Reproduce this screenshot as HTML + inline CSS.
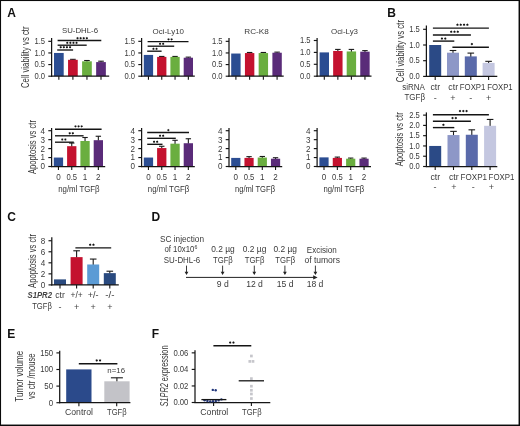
<!DOCTYPE html>
<html><head><meta charset="utf-8"><title>Figure</title>
<style>
html,body{margin:0;padding:0;background:#fff;}
body{width:520px;height:426px;overflow:hidden;position:relative;font-family:"Liberation Sans",sans-serif;}
svg{position:absolute;left:0;top:0;display:block;will-change:transform;fill:#3a3a3a;}
svg text{font-family:"Liberation Sans",sans-serif;}
</style></head>
<body>
<svg width="520" height="426" viewBox="0 0 520 426">
<text x="7.3" y="16.8" font-size="12" fill="#111" font-weight="bold">A</text>
<text x="387.3" y="17.4" font-size="12" fill="#111" font-weight="bold">B</text>
<text x="7.2" y="220.9" font-size="12" fill="#111" font-weight="bold">C</text>
<text x="151.5" y="220.9" font-size="12" fill="#111" font-weight="bold">D</text>
<text x="7.3" y="338" font-size="12" fill="#111" font-weight="bold">E</text>
<text x="151.8" y="338" font-size="12" fill="#111" font-weight="bold">F</text>
<rect x="54" y="52.95" width="9.7" height="23.25" fill="#2b4d92"/>
<path d="M72.9 60.31L72.9 59.34" stroke="#1a1a1a" stroke-width="1.1"/>
<path d="M70.09 59.34L75.71 59.34" stroke="#1a1a1a" stroke-width="1.1"/>
<rect x="68.05" y="59.81" width="9.7" height="16.39" fill="#c4122f"/>
<path d="M86.95 61.82L86.95 60.51" stroke="#1a1a1a" stroke-width="1.1"/>
<path d="M84.14 60.51L89.76 60.51" stroke="#1a1a1a" stroke-width="1.1"/>
<rect x="82.1" y="61.32" width="9.7" height="14.88" fill="#6aae3f"/>
<path d="M101 62.59L101 61.2" stroke="#1a1a1a" stroke-width="1.1"/>
<path d="M98.19 61.2L103.81 61.2" stroke="#1a1a1a" stroke-width="1.1"/>
<rect x="96.15" y="62.09" width="9.7" height="14.11" fill="#5a2b79"/>
<path d="M51.6 38L51.6 76.8" stroke="#151515" stroke-width="1.25"/>
<path d="M51 76.2L109.2 76.2" stroke="#151515" stroke-width="1.25"/>
<path d="M48.3 76.2L51.6 76.2" stroke="#151515" stroke-width="1.15"/>
<text x="45.1" y="79.1" font-size="8.5" text-anchor="end" textLength="10.6" lengthAdjust="spacingAndGlyphs">0.0</text>
<path d="M48.3 64.58L51.6 64.58" stroke="#151515" stroke-width="1.15"/>
<text x="45.1" y="67.48" font-size="8.5" text-anchor="end" textLength="10.6" lengthAdjust="spacingAndGlyphs">0.5</text>
<path d="M48.3 52.95L51.6 52.95" stroke="#151515" stroke-width="1.15"/>
<text x="45.1" y="55.85" font-size="8.5" text-anchor="end" textLength="10.6" lengthAdjust="spacingAndGlyphs">1.0</text>
<path d="M48.3 41.33L51.6 41.33" stroke="#151515" stroke-width="1.15"/>
<text x="45.1" y="44.23" font-size="8.5" text-anchor="end" textLength="10.6" lengthAdjust="spacingAndGlyphs">1.5</text>
<path d="M58.85 76.2L58.85 79.7" stroke="#151515" stroke-width="1.1"/>
<path d="M72.9 76.2L72.9 79.7" stroke="#151515" stroke-width="1.1"/>
<path d="M86.95 76.2L86.95 79.7" stroke="#151515" stroke-width="1.1"/>
<path d="M101 76.2L101 79.7" stroke="#151515" stroke-width="1.1"/>
<text x="80" y="32.8" font-size="8" text-anchor="middle" textLength="36" lengthAdjust="spacingAndGlyphs">SU-DHL-6</text>
<path d="M57.6 40.5L101.3 40.5" stroke="#141414" stroke-width="1.35"/>
<path d="M77.55 36.85L77.13 37.48L76.38 37.53L76.71 38.2L76.38 38.88L77.13 38.92L77.55 39.55L77.97 38.92L78.72 38.88L78.39 38.2L78.72 37.53L77.97 37.48Z" fill="#141414"/>
<path d="M80.65 36.85L80.23 37.48L79.48 37.53L79.81 38.2L79.48 38.88L80.23 38.92L80.65 39.55L81.07 38.92L81.82 38.88L81.49 38.2L81.82 37.53L81.07 37.48Z" fill="#141414"/>
<path d="M83.75 36.85L83.33 37.48L82.58 37.53L82.91 38.2L82.58 38.88L83.33 38.92L83.75 39.55L84.17 38.92L84.92 38.88L84.59 38.2L84.92 37.53L84.17 37.48Z" fill="#141414"/>
<path d="M86.85 36.85L86.43 37.48L85.68 37.53L86.01 38.2L85.68 38.88L86.43 38.92L86.85 39.55L87.27 38.92L88.02 38.88L87.69 38.2L88.02 37.53L87.27 37.48Z" fill="#141414"/>
<path d="M57.6 45.2L86.7 45.2" stroke="#141414" stroke-width="1.35"/>
<path d="M67.25 41.45L66.83 42.08L66.08 42.13L66.41 42.8L66.08 43.48L66.83 43.52L67.25 44.15L67.67 43.52L68.42 43.48L68.09 42.8L68.42 42.13L67.67 42.08Z" fill="#141414"/>
<path d="M70.35 41.45L69.93 42.08L69.18 42.13L69.51 42.8L69.18 43.48L69.93 43.52L70.35 44.15L70.77 43.52L71.52 43.48L71.19 42.8L71.52 42.13L70.77 42.08Z" fill="#141414"/>
<path d="M73.45 41.45L73.03 42.08L72.28 42.13L72.61 42.8L72.28 43.48L73.03 43.52L73.45 44.15L73.87 43.52L74.62 43.48L74.29 42.8L74.62 42.13L73.87 42.08Z" fill="#141414"/>
<path d="M76.55 41.45L76.13 42.08L75.38 42.13L75.71 42.8L75.38 43.48L76.13 43.52L76.55 44.15L76.97 43.52L77.72 43.48L77.39 42.8L77.72 42.13L76.97 42.08Z" fill="#141414"/>
<path d="M57.2 50L73.1 50" stroke="#141414" stroke-width="1.35"/>
<path d="M60.75 45.85L60.33 46.48L59.58 46.53L59.91 47.2L59.58 47.88L60.33 47.92L60.75 48.55L61.17 47.92L61.92 47.88L61.59 47.2L61.92 46.53L61.17 46.48Z" fill="#141414"/>
<path d="M63.85 45.85L63.43 46.48L62.68 46.53L63.01 47.2L62.68 47.88L63.43 47.92L63.85 48.55L64.27 47.92L65.02 47.88L64.69 47.2L65.02 46.53L64.27 46.48Z" fill="#141414"/>
<path d="M66.95 45.85L66.53 46.48L65.78 46.53L66.11 47.2L65.78 47.88L66.53 47.92L66.95 48.55L67.37 47.92L68.12 47.88L67.79 47.2L68.12 46.53L67.37 46.48Z" fill="#141414"/>
<path d="M70.05 45.85L69.63 46.48L68.88 46.53L69.21 47.2L68.88 47.88L69.63 47.92L70.05 48.55L70.47 47.92L71.22 47.88L70.89 47.2L71.22 46.53L70.47 46.48Z" fill="#141414"/>
<rect x="53.8" y="157.55" width="9.3" height="8.95" fill="#2b4d92"/>
<path d="M71.75 146.68L71.75 143.05" stroke="#1a1a1a" stroke-width="1.1"/>
<path d="M69.05 143.05L74.45 143.05" stroke="#1a1a1a" stroke-width="1.1"/>
<rect x="67.1" y="146.18" width="9.3" height="20.32" fill="#c4122f"/>
<path d="M85.05 141.49L85.05 137.5" stroke="#1a1a1a" stroke-width="1.1"/>
<path d="M82.35 137.5L87.75 137.5" stroke="#1a1a1a" stroke-width="1.1"/>
<rect x="80.4" y="140.99" width="9.3" height="25.51" fill="#6aae3f"/>
<path d="M98.35 140.69L98.35 136.25" stroke="#1a1a1a" stroke-width="1.1"/>
<path d="M95.65 136.25L101.05 136.25" stroke="#1a1a1a" stroke-width="1.1"/>
<rect x="93.7" y="140.19" width="9.3" height="26.31" fill="#5a2b79"/>
<path d="M51.6 128L51.6 167.1" stroke="#151515" stroke-width="1.25"/>
<path d="M51 166.5L105.2 166.5" stroke="#151515" stroke-width="1.25"/>
<path d="M48.3 166.5L51.6 166.5" stroke="#151515" stroke-width="1.15"/>
<text x="45.1" y="169.4" font-size="8.5" text-anchor="end" textLength="4.5" lengthAdjust="spacingAndGlyphs">0</text>
<path d="M48.3 157.55L51.6 157.55" stroke="#151515" stroke-width="1.15"/>
<text x="45.1" y="160.45" font-size="8.5" text-anchor="end" textLength="4.5" lengthAdjust="spacingAndGlyphs">1</text>
<path d="M48.3 148.6L51.6 148.6" stroke="#151515" stroke-width="1.15"/>
<text x="45.1" y="151.5" font-size="8.5" text-anchor="end" textLength="4.5" lengthAdjust="spacingAndGlyphs">2</text>
<path d="M48.3 139.65L51.6 139.65" stroke="#151515" stroke-width="1.15"/>
<text x="45.1" y="142.55" font-size="8.5" text-anchor="end" textLength="4.5" lengthAdjust="spacingAndGlyphs">3</text>
<path d="M48.3 130.7L51.6 130.7" stroke="#151515" stroke-width="1.15"/>
<text x="45.1" y="133.6" font-size="8.5" text-anchor="end" textLength="4.5" lengthAdjust="spacingAndGlyphs">4</text>
<path d="M58.45 166.5L58.45 170" stroke="#151515" stroke-width="1.1"/>
<path d="M71.75 166.5L71.75 170" stroke="#151515" stroke-width="1.1"/>
<path d="M85.05 166.5L85.05 170" stroke="#151515" stroke-width="1.1"/>
<path d="M98.35 166.5L98.35 170" stroke="#151515" stroke-width="1.1"/>
<text x="58.45" y="179.8" font-size="8.7" text-anchor="middle" textLength="4.5" lengthAdjust="spacingAndGlyphs">0</text>
<text x="71.75" y="179.8" font-size="8.7" text-anchor="middle" textLength="10.6" lengthAdjust="spacingAndGlyphs">0.5</text>
<text x="85.05" y="179.8" font-size="8.7" text-anchor="middle" textLength="4.5" lengthAdjust="spacingAndGlyphs">1</text>
<text x="98.35" y="179.8" font-size="8.7" text-anchor="middle" textLength="4.5" lengthAdjust="spacingAndGlyphs">2</text>
<text x="78.9" y="192" font-size="9.8" text-anchor="middle" fill="#363636" textLength="41.5" lengthAdjust="spacingAndGlyphs">ng/ml TGFβ</text>
<path d="M55 129.2L101.6 129.2" stroke="#141414" stroke-width="1.35"/>
<path d="M75.5 125.05L75.08 125.68L74.33 125.72L74.66 126.4L74.33 127.07L75.08 127.12L75.5 127.75L75.92 127.12L76.67 127.07L76.34 126.4L76.67 125.72L75.92 125.68Z" fill="#141414"/>
<path d="M78.6 125.05L78.18 125.68L77.43 125.72L77.76 126.4L77.43 127.07L78.18 127.12L78.6 127.75L79.02 127.12L79.77 127.07L79.44 126.4L79.77 125.72L79.02 125.68Z" fill="#141414"/>
<path d="M81.7 125.05L81.28 125.68L80.53 125.72L80.86 126.4L80.53 127.07L81.28 127.12L81.7 127.75L82.12 127.12L82.87 127.07L82.54 126.4L82.87 125.72L82.12 125.68Z" fill="#141414"/>
<path d="M55 135.8L83.6 135.8" stroke="#141414" stroke-width="1.35"/>
<path d="M69.75 131.95L69.33 132.58L68.58 132.62L68.91 133.3L68.58 133.98L69.33 134.02L69.75 134.65L70.17 134.02L70.92 133.98L70.59 133.3L70.92 132.62L70.17 132.58Z" fill="#141414"/>
<path d="M72.85 131.95L72.43 132.58L71.68 132.62L72.01 133.3L71.68 133.98L72.43 134.02L72.85 134.65L73.27 134.02L74.02 133.98L73.69 133.3L74.02 132.62L73.27 132.58Z" fill="#141414"/>
<path d="M55 142.2L73.8 142.2" stroke="#141414" stroke-width="1.35"/>
<path d="M62.25 138.15L61.83 138.78L61.08 138.82L61.41 139.5L61.08 140.18L61.83 140.22L62.25 140.85L62.67 140.22L63.42 140.18L63.09 139.5L63.42 138.82L62.67 138.78Z" fill="#141414"/>
<path d="M65.35 138.15L64.93 138.78L64.18 138.82L64.51 139.5L64.18 140.18L64.93 140.22L65.35 140.85L65.77 140.22L66.52 140.18L66.19 139.5L66.52 138.82L65.77 138.78Z" fill="#141414"/>
<rect x="143.8" y="54.93" width="9.3" height="21.27" fill="#2b4d92"/>
<path d="M161.75 57.4L161.75 56.44" stroke="#1a1a1a" stroke-width="1.1"/>
<path d="M159.05 56.44L164.45 56.44" stroke="#1a1a1a" stroke-width="1.1"/>
<rect x="157.1" y="56.9" width="9.3" height="19.3" fill="#c4122f"/>
<path d="M175.05 57.4L175.05 56.44" stroke="#1a1a1a" stroke-width="1.1"/>
<path d="M172.35 56.44L177.75 56.44" stroke="#1a1a1a" stroke-width="1.1"/>
<rect x="170.4" y="56.9" width="9.3" height="19.3" fill="#6aae3f"/>
<path d="M188.35 58.22L188.35 57.14" stroke="#1a1a1a" stroke-width="1.1"/>
<path d="M185.65 57.14L191.05 57.14" stroke="#1a1a1a" stroke-width="1.1"/>
<rect x="183.7" y="57.72" width="9.3" height="18.48" fill="#5a2b79"/>
<path d="M141.6 38L141.6 76.8" stroke="#151515" stroke-width="1.25"/>
<path d="M141 76.2L194.8 76.2" stroke="#151515" stroke-width="1.25"/>
<path d="M138.3 76.2L141.6 76.2" stroke="#151515" stroke-width="1.15"/>
<text x="135.1" y="79.1" font-size="8.5" text-anchor="end" textLength="10.6" lengthAdjust="spacingAndGlyphs">0.0</text>
<path d="M138.3 64.58L141.6 64.58" stroke="#151515" stroke-width="1.15"/>
<text x="135.1" y="67.48" font-size="8.5" text-anchor="end" textLength="10.6" lengthAdjust="spacingAndGlyphs">0.5</text>
<path d="M138.3 52.95L141.6 52.95" stroke="#151515" stroke-width="1.15"/>
<text x="135.1" y="55.85" font-size="8.5" text-anchor="end" textLength="10.6" lengthAdjust="spacingAndGlyphs">1.0</text>
<path d="M138.3 41.33L141.6 41.33" stroke="#151515" stroke-width="1.15"/>
<text x="135.1" y="44.23" font-size="8.5" text-anchor="end" textLength="10.6" lengthAdjust="spacingAndGlyphs">1.5</text>
<path d="M148.45 76.2L148.45 79.7" stroke="#151515" stroke-width="1.1"/>
<path d="M161.75 76.2L161.75 79.7" stroke="#151515" stroke-width="1.1"/>
<path d="M175.05 76.2L175.05 79.7" stroke="#151515" stroke-width="1.1"/>
<path d="M188.35 76.2L188.35 79.7" stroke="#151515" stroke-width="1.1"/>
<text x="168.3" y="34.2" font-size="8" text-anchor="middle" textLength="31.5" lengthAdjust="spacingAndGlyphs">Oci-Ly10</text>
<path d="M147.6 41.6L188.5 41.6" stroke="#141414" stroke-width="1.35"/>
<path d="M168.55 38.05L168.13 38.68L167.38 38.73L167.71 39.4L167.38 40.07L168.13 40.12L168.55 40.75L168.97 40.12L169.72 40.07L169.39 39.4L169.72 38.73L168.97 38.68Z" fill="#141414"/>
<path d="M171.65 38.05L171.23 38.68L170.48 38.73L170.81 39.4L170.48 40.07L171.23 40.12L171.65 40.75L172.07 40.12L172.82 40.07L172.49 39.4L172.82 38.73L172.07 38.68Z" fill="#141414"/>
<path d="M147.6 46.2L174.2 46.2" stroke="#141414" stroke-width="1.35"/>
<path d="M160.05 42.45L159.63 43.08L158.88 43.13L159.21 43.8L158.88 44.48L159.63 44.52L160.05 45.15L160.47 44.52L161.22 44.48L160.89 43.8L161.22 43.13L160.47 43.08Z" fill="#141414"/>
<path d="M163.15 42.45L162.73 43.08L161.98 43.13L162.31 43.8L161.98 44.48L162.73 44.52L163.15 45.15L163.57 44.52L164.32 44.48L163.99 43.8L164.32 43.13L163.57 43.08Z" fill="#141414"/>
<path d="M147.2 51.2L161.6 51.2" stroke="#141414" stroke-width="1.35"/>
<path d="M153.45 47.45L153.03 48.08L152.28 48.13L152.61 48.8L152.28 49.48L153.03 49.52L153.45 50.15L153.87 49.52L154.62 49.48L154.29 48.8L154.62 48.13L153.87 48.08Z" fill="#141414"/>
<path d="M156.55 47.45L156.13 48.08L155.38 48.13L155.71 48.8L155.38 49.48L156.13 49.52L156.55 50.15L156.97 49.52L157.72 49.48L157.39 48.8L157.72 48.13L156.97 48.08Z" fill="#141414"/>
<rect x="143.8" y="157.55" width="9.3" height="8.95" fill="#2b4d92"/>
<path d="M161.75 148.56L161.75 146.27" stroke="#1a1a1a" stroke-width="1.1"/>
<path d="M159.05 146.27L164.45 146.27" stroke="#1a1a1a" stroke-width="1.1"/>
<rect x="157.1" y="148.06" width="9.3" height="18.44" fill="#c4122f"/>
<path d="M175.05 144.18L175.05 140.28" stroke="#1a1a1a" stroke-width="1.1"/>
<path d="M172.35 140.28L177.75 140.28" stroke="#1a1a1a" stroke-width="1.1"/>
<rect x="170.4" y="143.68" width="9.3" height="22.82" fill="#6aae3f"/>
<path d="M188.35 143.73L188.35 138.75" stroke="#1a1a1a" stroke-width="1.1"/>
<path d="M185.65 138.75L191.05 138.75" stroke="#1a1a1a" stroke-width="1.1"/>
<rect x="183.7" y="143.23" width="9.3" height="23.27" fill="#5a2b79"/>
<path d="M141.6 128L141.6 167.1" stroke="#151515" stroke-width="1.25"/>
<path d="M141 166.5L194.8 166.5" stroke="#151515" stroke-width="1.25"/>
<path d="M138.3 166.5L141.6 166.5" stroke="#151515" stroke-width="1.15"/>
<text x="135.1" y="169.4" font-size="8.5" text-anchor="end" textLength="4.5" lengthAdjust="spacingAndGlyphs">0</text>
<path d="M138.3 157.55L141.6 157.55" stroke="#151515" stroke-width="1.15"/>
<text x="135.1" y="160.45" font-size="8.5" text-anchor="end" textLength="4.5" lengthAdjust="spacingAndGlyphs">1</text>
<path d="M138.3 148.6L141.6 148.6" stroke="#151515" stroke-width="1.15"/>
<text x="135.1" y="151.5" font-size="8.5" text-anchor="end" textLength="4.5" lengthAdjust="spacingAndGlyphs">2</text>
<path d="M138.3 139.65L141.6 139.65" stroke="#151515" stroke-width="1.15"/>
<text x="135.1" y="142.55" font-size="8.5" text-anchor="end" textLength="4.5" lengthAdjust="spacingAndGlyphs">3</text>
<path d="M138.3 130.7L141.6 130.7" stroke="#151515" stroke-width="1.15"/>
<text x="135.1" y="133.6" font-size="8.5" text-anchor="end" textLength="4.5" lengthAdjust="spacingAndGlyphs">4</text>
<path d="M148.45 166.5L148.45 170" stroke="#151515" stroke-width="1.1"/>
<path d="M161.75 166.5L161.75 170" stroke="#151515" stroke-width="1.1"/>
<path d="M175.05 166.5L175.05 170" stroke="#151515" stroke-width="1.1"/>
<path d="M188.35 166.5L188.35 170" stroke="#151515" stroke-width="1.1"/>
<text x="148.45" y="179.8" font-size="8.7" text-anchor="middle" textLength="4.5" lengthAdjust="spacingAndGlyphs">0</text>
<text x="161.75" y="179.8" font-size="8.7" text-anchor="middle" textLength="10.6" lengthAdjust="spacingAndGlyphs">0.5</text>
<text x="175.05" y="179.8" font-size="8.7" text-anchor="middle" textLength="4.5" lengthAdjust="spacingAndGlyphs">1</text>
<text x="188.35" y="179.8" font-size="8.7" text-anchor="middle" textLength="4.5" lengthAdjust="spacingAndGlyphs">2</text>
<text x="168.6" y="192" font-size="9.8" text-anchor="middle" fill="#363636" textLength="41.5" lengthAdjust="spacingAndGlyphs">ng/ml TGFβ</text>
<path d="M147.2 132.5L189 132.5" stroke="#141414" stroke-width="1.35"/>
<path d="M168.3 128.75L167.88 129.38L167.13 129.42L167.46 130.1L167.13 130.78L167.88 130.82L168.3 131.45L168.72 130.82L169.47 130.78L169.14 130.1L169.47 129.42L168.72 129.38Z" fill="#141414"/>
<path d="M147.2 138.3L175.8 138.3" stroke="#141414" stroke-width="1.35"/>
<path d="M160.05 134.35L159.63 134.98L158.88 135.03L159.21 135.7L158.88 136.38L159.63 136.42L160.05 137.05L160.47 136.42L161.22 136.38L160.89 135.7L161.22 135.03L160.47 134.98Z" fill="#141414"/>
<path d="M163.15 134.35L162.73 134.98L161.98 135.03L162.31 135.7L161.98 136.38L162.73 136.42L163.15 137.05L163.57 136.42L164.32 136.38L163.99 135.7L164.32 135.03L163.57 134.98Z" fill="#141414"/>
<path d="M147.2 144.3L162.5 144.3" stroke="#141414" stroke-width="1.35"/>
<path d="M154.05 140.35L153.63 140.98L152.88 141.03L153.21 141.7L152.88 142.38L153.63 142.42L154.05 143.05L154.47 142.42L155.22 142.38L154.89 141.7L155.22 141.03L154.47 140.98Z" fill="#141414"/>
<path d="M157.15 140.35L156.73 140.98L155.98 141.03L156.31 141.7L155.98 142.38L156.73 142.42L157.15 143.05L157.57 142.42L158.32 142.38L157.99 141.7L158.32 141.03L157.57 140.98Z" fill="#141414"/>
<rect x="231.2" y="53.53" width="9.4" height="22.67" fill="#2b4d92"/>
<path d="M249.63 53.57L249.63 52.48" stroke="#1a1a1a" stroke-width="1.1"/>
<path d="M246.9 52.48L252.36 52.48" stroke="#1a1a1a" stroke-width="1.1"/>
<rect x="244.93" y="53.07" width="9.4" height="23.13" fill="#c4122f"/>
<path d="M263.36 53.57L263.36 52.48" stroke="#1a1a1a" stroke-width="1.1"/>
<path d="M260.63 52.48L266.09 52.48" stroke="#1a1a1a" stroke-width="1.1"/>
<rect x="258.66" y="53.07" width="9.4" height="23.13" fill="#6aae3f"/>
<path d="M277.09 53.22L277.09 52.14" stroke="#1a1a1a" stroke-width="1.1"/>
<path d="M274.36 52.14L279.82 52.14" stroke="#1a1a1a" stroke-width="1.1"/>
<rect x="272.39" y="52.72" width="9.4" height="23.48" fill="#5a2b79"/>
<path d="M229 38L229 76.8" stroke="#151515" stroke-width="1.25"/>
<path d="M228.4 76.2L283.7 76.2" stroke="#151515" stroke-width="1.25"/>
<path d="M225.7 76.2L229 76.2" stroke="#151515" stroke-width="1.15"/>
<text x="222.5" y="79.1" font-size="8.5" text-anchor="end" textLength="10.6" lengthAdjust="spacingAndGlyphs">0.0</text>
<path d="M225.7 64.58L229 64.58" stroke="#151515" stroke-width="1.15"/>
<text x="222.5" y="67.48" font-size="8.5" text-anchor="end" textLength="10.6" lengthAdjust="spacingAndGlyphs">0.5</text>
<path d="M225.7 52.95L229 52.95" stroke="#151515" stroke-width="1.15"/>
<text x="222.5" y="55.85" font-size="8.5" text-anchor="end" textLength="10.6" lengthAdjust="spacingAndGlyphs">1.0</text>
<path d="M225.7 41.33L229 41.33" stroke="#151515" stroke-width="1.15"/>
<text x="222.5" y="44.23" font-size="8.5" text-anchor="end" textLength="10.6" lengthAdjust="spacingAndGlyphs">1.5</text>
<path d="M235.9 76.2L235.9 79.7" stroke="#151515" stroke-width="1.1"/>
<path d="M249.63 76.2L249.63 79.7" stroke="#151515" stroke-width="1.1"/>
<path d="M263.36 76.2L263.36 79.7" stroke="#151515" stroke-width="1.1"/>
<path d="M277.09 76.2L277.09 79.7" stroke="#151515" stroke-width="1.1"/>
<text x="256.5" y="34.2" font-size="8" text-anchor="middle" textLength="24.5" lengthAdjust="spacingAndGlyphs">RC-K8</text>
<rect x="231.2" y="157.91" width="9.2" height="8.59" fill="#2b4d92"/>
<path d="M249.05 158.41L249.05 156.66" stroke="#1a1a1a" stroke-width="1.1"/>
<path d="M246.38 156.66L251.72 156.66" stroke="#1a1a1a" stroke-width="1.1"/>
<rect x="244.45" y="157.91" width="9.2" height="8.59" fill="#c4122f"/>
<path d="M262.3 158.05L262.3 156.48" stroke="#1a1a1a" stroke-width="1.1"/>
<path d="M259.63 156.48L264.97 156.48" stroke="#1a1a1a" stroke-width="1.1"/>
<rect x="257.7" y="157.55" width="9.2" height="8.95" fill="#6aae3f"/>
<path d="M275.55 159.21L275.55 157.73" stroke="#1a1a1a" stroke-width="1.1"/>
<path d="M272.88 157.73L278.22 157.73" stroke="#1a1a1a" stroke-width="1.1"/>
<rect x="270.95" y="158.71" width="9.2" height="7.79" fill="#5a2b79"/>
<path d="M229 128L229 167.1" stroke="#151515" stroke-width="1.25"/>
<path d="M228.4 166.5L282.2 166.5" stroke="#151515" stroke-width="1.25"/>
<path d="M225.7 166.5L229 166.5" stroke="#151515" stroke-width="1.15"/>
<text x="222.5" y="169.4" font-size="8.5" text-anchor="end" textLength="4.5" lengthAdjust="spacingAndGlyphs">0</text>
<path d="M225.7 157.55L229 157.55" stroke="#151515" stroke-width="1.15"/>
<text x="222.5" y="160.45" font-size="8.5" text-anchor="end" textLength="4.5" lengthAdjust="spacingAndGlyphs">1</text>
<path d="M225.7 148.6L229 148.6" stroke="#151515" stroke-width="1.15"/>
<text x="222.5" y="151.5" font-size="8.5" text-anchor="end" textLength="4.5" lengthAdjust="spacingAndGlyphs">2</text>
<path d="M225.7 139.65L229 139.65" stroke="#151515" stroke-width="1.15"/>
<text x="222.5" y="142.55" font-size="8.5" text-anchor="end" textLength="4.5" lengthAdjust="spacingAndGlyphs">3</text>
<path d="M225.7 130.7L229 130.7" stroke="#151515" stroke-width="1.15"/>
<text x="222.5" y="133.6" font-size="8.5" text-anchor="end" textLength="4.5" lengthAdjust="spacingAndGlyphs">4</text>
<path d="M235.8 166.5L235.8 170" stroke="#151515" stroke-width="1.1"/>
<path d="M249.05 166.5L249.05 170" stroke="#151515" stroke-width="1.1"/>
<path d="M262.3 166.5L262.3 170" stroke="#151515" stroke-width="1.1"/>
<path d="M275.55 166.5L275.55 170" stroke="#151515" stroke-width="1.1"/>
<text x="235.8" y="179.8" font-size="8.7" text-anchor="middle" textLength="4.5" lengthAdjust="spacingAndGlyphs">0</text>
<text x="249.05" y="179.8" font-size="8.7" text-anchor="middle" textLength="10.6" lengthAdjust="spacingAndGlyphs">0.5</text>
<text x="262.3" y="179.8" font-size="8.7" text-anchor="middle" textLength="4.5" lengthAdjust="spacingAndGlyphs">1</text>
<text x="275.55" y="179.8" font-size="8.7" text-anchor="middle" textLength="4.5" lengthAdjust="spacingAndGlyphs">2</text>
<text x="255" y="192" font-size="9.8" text-anchor="middle" fill="#363636" textLength="40" lengthAdjust="spacingAndGlyphs">ng/ml TGFβ</text>
<rect x="319.6" y="52.4" width="9.4" height="23.8" fill="#2b4d92"/>
<path d="M337.85 51.47L337.85 49.42" stroke="#1a1a1a" stroke-width="1.1"/>
<path d="M335.12 49.42L340.58 49.42" stroke="#1a1a1a" stroke-width="1.1"/>
<rect x="333.15" y="50.97" width="9.4" height="25.23" fill="#c4122f"/>
<path d="M351.4 51.95L351.4 49.42" stroke="#1a1a1a" stroke-width="1.1"/>
<path d="M348.67 49.42L354.13 49.42" stroke="#1a1a1a" stroke-width="1.1"/>
<rect x="346.7" y="51.45" width="9.4" height="24.75" fill="#6aae3f"/>
<path d="M364.95 52.19L364.95 50.62" stroke="#1a1a1a" stroke-width="1.1"/>
<path d="M362.22 50.62L367.68 50.62" stroke="#1a1a1a" stroke-width="1.1"/>
<rect x="360.25" y="51.69" width="9.4" height="24.51" fill="#5a2b79"/>
<path d="M317.1 38L317.1 76.8" stroke="#151515" stroke-width="1.25"/>
<path d="M316.5 76.2L371.5 76.2" stroke="#151515" stroke-width="1.25"/>
<path d="M313.8 76.2L317.1 76.2" stroke="#151515" stroke-width="1.15"/>
<text x="310.6" y="79.1" font-size="8.5" text-anchor="end" textLength="10.6" lengthAdjust="spacingAndGlyphs">0.0</text>
<path d="M313.8 64.3L317.1 64.3" stroke="#151515" stroke-width="1.15"/>
<text x="310.6" y="67.2" font-size="8.5" text-anchor="end" textLength="10.6" lengthAdjust="spacingAndGlyphs">0.5</text>
<path d="M313.8 52.4L317.1 52.4" stroke="#151515" stroke-width="1.15"/>
<text x="310.6" y="55.3" font-size="8.5" text-anchor="end" textLength="10.6" lengthAdjust="spacingAndGlyphs">1.0</text>
<path d="M313.8 40.5L317.1 40.5" stroke="#151515" stroke-width="1.15"/>
<text x="310.6" y="43.4" font-size="8.5" text-anchor="end" textLength="10.6" lengthAdjust="spacingAndGlyphs">1.5</text>
<path d="M324.3 76.2L324.3 79.7" stroke="#151515" stroke-width="1.1"/>
<path d="M337.85 76.2L337.85 79.7" stroke="#151515" stroke-width="1.1"/>
<path d="M351.4 76.2L351.4 79.7" stroke="#151515" stroke-width="1.1"/>
<path d="M364.95 76.2L364.95 79.7" stroke="#151515" stroke-width="1.1"/>
<text x="344.5" y="34.2" font-size="8" text-anchor="middle" textLength="27" lengthAdjust="spacingAndGlyphs">Oci-Ly3</text>
<rect x="319.4" y="157.37" width="9.2" height="9.13" fill="#2b4d92"/>
<path d="M337.35 158.41L337.35 157.1" stroke="#1a1a1a" stroke-width="1.1"/>
<path d="M334.68 157.1L340.02 157.1" stroke="#1a1a1a" stroke-width="1.1"/>
<rect x="332.75" y="157.91" width="9.2" height="8.59" fill="#c4122f"/>
<path d="M350.7 159.21L350.7 158.09" stroke="#1a1a1a" stroke-width="1.1"/>
<path d="M348.03 158.09L353.37 158.09" stroke="#1a1a1a" stroke-width="1.1"/>
<rect x="346.1" y="158.71" width="9.2" height="7.79" fill="#6aae3f"/>
<path d="M364.05 159.21L364.05 158.09" stroke="#1a1a1a" stroke-width="1.1"/>
<path d="M361.38 158.09L366.72 158.09" stroke="#1a1a1a" stroke-width="1.1"/>
<rect x="359.45" y="158.71" width="9.2" height="7.79" fill="#5a2b79"/>
<path d="M317.1 128L317.1 167.1" stroke="#151515" stroke-width="1.25"/>
<path d="M316.5 166.5L371 166.5" stroke="#151515" stroke-width="1.25"/>
<path d="M313.8 166.5L317.1 166.5" stroke="#151515" stroke-width="1.15"/>
<text x="310.6" y="169.4" font-size="8.5" text-anchor="end" textLength="4.5" lengthAdjust="spacingAndGlyphs">0</text>
<path d="M313.8 157.55L317.1 157.55" stroke="#151515" stroke-width="1.15"/>
<text x="310.6" y="160.45" font-size="8.5" text-anchor="end" textLength="4.5" lengthAdjust="spacingAndGlyphs">1</text>
<path d="M313.8 148.6L317.1 148.6" stroke="#151515" stroke-width="1.15"/>
<text x="310.6" y="151.5" font-size="8.5" text-anchor="end" textLength="4.5" lengthAdjust="spacingAndGlyphs">2</text>
<path d="M313.8 139.65L317.1 139.65" stroke="#151515" stroke-width="1.15"/>
<text x="310.6" y="142.55" font-size="8.5" text-anchor="end" textLength="4.5" lengthAdjust="spacingAndGlyphs">3</text>
<path d="M313.8 130.7L317.1 130.7" stroke="#151515" stroke-width="1.15"/>
<text x="310.6" y="133.6" font-size="8.5" text-anchor="end" textLength="4.5" lengthAdjust="spacingAndGlyphs">4</text>
<path d="M324 166.5L324 170" stroke="#151515" stroke-width="1.1"/>
<path d="M337.35 166.5L337.35 170" stroke="#151515" stroke-width="1.1"/>
<path d="M350.7 166.5L350.7 170" stroke="#151515" stroke-width="1.1"/>
<path d="M364.05 166.5L364.05 170" stroke="#151515" stroke-width="1.1"/>
<text x="324" y="179.8" font-size="8.7" text-anchor="middle" textLength="4.5" lengthAdjust="spacingAndGlyphs">0</text>
<text x="337.35" y="179.8" font-size="8.7" text-anchor="middle" textLength="10.6" lengthAdjust="spacingAndGlyphs">0.5</text>
<text x="350.7" y="179.8" font-size="8.7" text-anchor="middle" textLength="4.5" lengthAdjust="spacingAndGlyphs">1</text>
<text x="364.05" y="179.8" font-size="8.7" text-anchor="middle" textLength="4.5" lengthAdjust="spacingAndGlyphs">2</text>
<text x="343.9" y="192" font-size="9.8" text-anchor="middle" fill="#363636" textLength="40.8" lengthAdjust="spacingAndGlyphs">ng/ml TGFβ</text>
<text x="29.1" y="57.25" font-size="10.3" text-anchor="middle" fill="#363636" textLength="61.5" lengthAdjust="spacingAndGlyphs" transform="rotate(-90 29.1 57.25)">Cell viability vs ctr</text>
<text x="36.1" y="147" font-size="10.3" text-anchor="middle" fill="#363636" textLength="54" lengthAdjust="spacingAndGlyphs" transform="rotate(-90 36.1 147)">Apoptosis vs ctr</text>
<rect x="429.2" y="45" width="12" height="31.4" fill="#2b4a86"/>
<path d="M453 53.19L453 50.5" stroke="#1a1a1a" stroke-width="1.1"/>
<path d="M449.7 50.5L456.3 50.5" stroke="#1a1a1a" stroke-width="1.1"/>
<rect x="447" y="52.69" width="12" height="23.71" fill="#8d97c7"/>
<path d="M470.8 56.9L470.8 53.1" stroke="#1a1a1a" stroke-width="1.1"/>
<path d="M467.5 53.1L474.1 53.1" stroke="#1a1a1a" stroke-width="1.1"/>
<rect x="464.8" y="56.4" width="12" height="20" fill="#5a6aaa"/>
<path d="M488.6 63.4L488.6 61.33" stroke="#1a1a1a" stroke-width="1.1"/>
<path d="M485.3 61.33L491.9 61.33" stroke="#1a1a1a" stroke-width="1.1"/>
<rect x="482.6" y="62.9" width="12" height="13.5" fill="#c4c7e0"/>
<path d="M426.4 25.5L426.4 77" stroke="#151515" stroke-width="1.25"/>
<path d="M425.8 76.4L497.3 76.4" stroke="#151515" stroke-width="1.25"/>
<path d="M423.1 76.4L426.4 76.4" stroke="#151515" stroke-width="1.15"/>
<text x="419.8" y="79.1" font-size="8.5" text-anchor="end" textLength="10.6" lengthAdjust="spacingAndGlyphs">0.0</text>
<path d="M423.1 60.7L426.4 60.7" stroke="#151515" stroke-width="1.15"/>
<text x="419.8" y="63.4" font-size="8.5" text-anchor="end" textLength="10.6" lengthAdjust="spacingAndGlyphs">0.5</text>
<path d="M423.1 45L426.4 45" stroke="#151515" stroke-width="1.15"/>
<text x="419.8" y="47.7" font-size="8.5" text-anchor="end" textLength="10.6" lengthAdjust="spacingAndGlyphs">1.0</text>
<path d="M423.1 29.3L426.4 29.3" stroke="#151515" stroke-width="1.15"/>
<text x="419.8" y="32" font-size="8.5" text-anchor="end" textLength="10.6" lengthAdjust="spacingAndGlyphs">1.5</text>
<path d="M435.2 76.4L435.2 79.9" stroke="#151515" stroke-width="1.1"/>
<path d="M453 76.4L453 79.9" stroke="#151515" stroke-width="1.1"/>
<path d="M470.8 76.4L470.8 79.9" stroke="#151515" stroke-width="1.1"/>
<path d="M488.6 76.4L488.6 79.9" stroke="#151515" stroke-width="1.1"/>
<path d="M432.9 28.1L488.9 28.1" stroke="#141414" stroke-width="1.4"/>
<path d="M457.45 23.28L457.01 23.94L456.22 23.99L456.57 24.7L456.22 25.41L457.01 25.46L457.45 26.12L457.89 25.46L458.68 25.41L458.33 24.7L458.68 23.99L457.89 23.94Z" fill="#141414"/>
<path d="M460.75 23.28L460.31 23.94L459.52 23.99L459.87 24.7L459.52 25.41L460.31 25.46L460.75 26.12L461.19 25.46L461.98 25.41L461.63 24.7L461.98 23.99L461.19 23.94Z" fill="#141414"/>
<path d="M464.05 23.28L463.61 23.94L462.82 23.99L463.17 24.7L462.82 25.41L463.61 25.46L464.05 26.12L464.49 25.46L465.28 25.41L464.93 24.7L465.28 23.99L464.49 23.94Z" fill="#141414"/>
<path d="M467.35 23.28L466.91 23.94L466.12 23.99L466.47 24.7L466.12 25.41L466.91 25.46L467.35 26.12L467.79 25.46L468.58 25.41L468.23 24.7L468.58 23.99L467.79 23.94Z" fill="#141414"/>
<path d="M432.9 35L470.9 35" stroke="#141414" stroke-width="1.4"/>
<path d="M451.2 30.28L450.76 30.94L449.97 30.99L450.32 31.7L449.97 32.41L450.76 32.46L451.2 33.12L451.64 32.46L452.43 32.41L452.08 31.7L452.43 30.99L451.64 30.94Z" fill="#141414"/>
<path d="M454.5 30.28L454.06 30.94L453.27 30.99L453.62 31.7L453.27 32.41L454.06 32.46L454.5 33.12L454.94 32.46L455.73 32.41L455.38 31.7L455.73 30.99L454.94 30.94Z" fill="#141414"/>
<path d="M457.8 30.28L457.36 30.94L456.57 30.99L456.92 31.7L456.57 32.41L457.36 32.46L457.8 33.12L458.24 32.46L459.03 32.41L458.68 31.7L459.03 30.99L458.24 30.94Z" fill="#141414"/>
<path d="M432.9 41.1L454.3 41.1" stroke="#141414" stroke-width="1.4"/>
<path d="M441.95 37.18L441.51 37.84L440.72 37.89L441.07 38.6L440.72 39.31L441.51 39.36L441.95 40.02L442.39 39.36L443.18 39.31L442.83 38.6L443.18 37.89L442.39 37.84Z" fill="#141414"/>
<path d="M445.25 37.18L444.81 37.84L444.02 37.89L444.37 38.6L444.02 39.31L444.81 39.36L445.25 40.02L445.69 39.36L446.48 39.31L446.13 38.6L446.48 37.89L445.69 37.84Z" fill="#141414"/>
<path d="M452.4 47.2L488.9 47.2" stroke="#141414" stroke-width="1.4"/>
<path d="M471.9 42.68L471.46 43.34L470.67 43.39L471.02 44.1L470.67 44.81L471.46 44.86L471.9 45.52L472.34 44.86L473.13 44.81L472.78 44.1L473.13 43.39L472.34 43.34Z" fill="#141414"/>
<text x="425" y="90.1" font-size="8.5" text-anchor="end" textLength="22.8" lengthAdjust="spacingAndGlyphs">siRNA</text>
<text x="425" y="99.9" font-size="8.5" text-anchor="end" textLength="20.5" lengthAdjust="spacingAndGlyphs">TGFβ</text>
<text x="435.3" y="90.1" font-size="8.5" text-anchor="middle" textLength="9.8" lengthAdjust="spacingAndGlyphs">ctr</text>
<text x="453.2" y="90.1" font-size="8.5" text-anchor="middle" textLength="9.8" lengthAdjust="spacingAndGlyphs">ctr</text>
<text x="472.6" y="90.1" font-size="8.5" text-anchor="middle" textLength="25.6" lengthAdjust="spacingAndGlyphs">FOXP1</text>
<text x="499.9" y="90.1" font-size="8.5" text-anchor="middle" textLength="25.5" lengthAdjust="spacingAndGlyphs">FOXP1</text>
<text x="435.2" y="100.5" font-size="9" text-anchor="middle" fill="#484848">-</text>
<text x="453" y="100.5" font-size="9" text-anchor="middle" fill="#484848">+</text>
<text x="470.8" y="100.5" font-size="9" text-anchor="middle" fill="#484848">-</text>
<text x="488.6" y="100.5" font-size="9" text-anchor="middle" fill="#484848">+</text>
<text x="403.9" y="51.1" font-size="10.3" text-anchor="middle" fill="#363636" textLength="62.2" lengthAdjust="spacingAndGlyphs" transform="rotate(-90 403.9 51.1)">Cell viability vs ctr</text>
<rect x="429.2" y="145.95" width="12" height="20.55" fill="#2b4a86"/>
<path d="M453.5 135.56L453.5 131.36" stroke="#1a1a1a" stroke-width="1.1"/>
<path d="M450.2 131.36L456.8 131.36" stroke="#1a1a1a" stroke-width="1.1"/>
<rect x="447.5" y="135.06" width="12" height="31.44" fill="#8d97c7"/>
<path d="M471.8 135.25L471.8 129.82" stroke="#1a1a1a" stroke-width="1.1"/>
<path d="M468.5 129.82L475.1 129.82" stroke="#1a1a1a" stroke-width="1.1"/>
<rect x="465.8" y="134.75" width="12" height="31.75" fill="#5a6aaa"/>
<path d="M490.1 126.31L490.1 119.44" stroke="#1a1a1a" stroke-width="1.1"/>
<path d="M486.8 119.44L493.4 119.44" stroke="#1a1a1a" stroke-width="1.1"/>
<rect x="484.1" y="125.81" width="12" height="40.69" fill="#c4c7e0"/>
<path d="M426.4 112.4L426.4 167.1" stroke="#151515" stroke-width="1.25"/>
<path d="M425.8 166.5L497.3 166.5" stroke="#151515" stroke-width="1.25"/>
<path d="M423.1 166.5L426.4 166.5" stroke="#151515" stroke-width="1.15"/>
<text x="419.8" y="169.2" font-size="8.5" text-anchor="end" textLength="10.6" lengthAdjust="spacingAndGlyphs">0.0</text>
<path d="M423.1 156.22L426.4 156.22" stroke="#151515" stroke-width="1.15"/>
<text x="419.8" y="158.92" font-size="8.5" text-anchor="end" textLength="10.6" lengthAdjust="spacingAndGlyphs">0.5</text>
<path d="M423.1 145.95L426.4 145.95" stroke="#151515" stroke-width="1.15"/>
<text x="419.8" y="148.65" font-size="8.5" text-anchor="end" textLength="10.6" lengthAdjust="spacingAndGlyphs">1.0</text>
<path d="M423.1 135.68L426.4 135.68" stroke="#151515" stroke-width="1.15"/>
<text x="419.8" y="138.38" font-size="8.5" text-anchor="end" textLength="10.6" lengthAdjust="spacingAndGlyphs">1.5</text>
<path d="M423.1 125.4L426.4 125.4" stroke="#151515" stroke-width="1.15"/>
<text x="419.8" y="128.1" font-size="8.5" text-anchor="end" textLength="10.6" lengthAdjust="spacingAndGlyphs">2.0</text>
<path d="M423.1 115.12L426.4 115.12" stroke="#151515" stroke-width="1.15"/>
<text x="419.8" y="117.83" font-size="8.5" text-anchor="end" textLength="10.6" lengthAdjust="spacingAndGlyphs">2.5</text>
<path d="M435.2 166.5L435.2 170" stroke="#151515" stroke-width="1.1"/>
<path d="M453.5 166.5L453.5 170" stroke="#151515" stroke-width="1.1"/>
<path d="M471.8 166.5L471.8 170" stroke="#151515" stroke-width="1.1"/>
<path d="M490.1 166.5L490.1 170" stroke="#151515" stroke-width="1.1"/>
<path d="M432.9 114.7L488.9 114.7" stroke="#141414" stroke-width="1.4"/>
<path d="M460 109.68L459.56 110.34L458.77 110.39L459.12 111.1L458.77 111.81L459.56 111.86L460 112.52L460.44 111.86L461.23 111.81L460.88 111.1L461.23 110.39L460.44 110.34Z" fill="#141414"/>
<path d="M463.3 109.68L462.86 110.34L462.07 110.39L462.42 111.1L462.07 111.81L462.86 111.86L463.3 112.52L463.74 111.86L464.53 111.81L464.18 111.1L464.53 110.39L463.74 110.34Z" fill="#141414"/>
<path d="M466.6 109.68L466.16 110.34L465.37 110.39L465.72 111.1L465.37 111.81L466.16 111.86L466.6 112.52L467.04 111.86L467.83 111.81L467.48 111.1L467.83 110.39L467.04 110.34Z" fill="#141414"/>
<path d="M432.9 121.2L470.9 121.2" stroke="#141414" stroke-width="1.4"/>
<path d="M452.55 116.68L452.11 117.34L451.32 117.39L451.67 118.1L451.32 118.81L452.11 118.86L452.55 119.52L452.99 118.86L453.78 118.81L453.43 118.1L453.78 117.39L452.99 117.34Z" fill="#141414"/>
<path d="M455.85 116.68L455.41 117.34L454.62 117.39L454.97 118.1L454.62 118.81L455.41 118.86L455.85 119.52L456.29 118.86L457.08 118.81L456.73 118.1L457.08 117.39L456.29 117.34Z" fill="#141414"/>
<path d="M432.9 127.6L454.3 127.6" stroke="#141414" stroke-width="1.4"/>
<path d="M443.4 123.38L442.96 124.04L442.17 124.09L442.52 124.8L442.17 125.51L442.96 125.56L443.4 126.22L443.84 125.56L444.63 125.51L444.28 124.8L444.63 124.09L443.84 124.04Z" fill="#141414"/>
<text x="435.3" y="179.9" font-size="8.5" text-anchor="middle" textLength="9.8" lengthAdjust="spacingAndGlyphs">ctr</text>
<text x="453.8" y="179.9" font-size="8.5" text-anchor="middle" textLength="9.8" lengthAdjust="spacingAndGlyphs">ctr</text>
<text x="473.8" y="179.9" font-size="8.5" text-anchor="middle" textLength="26.4" lengthAdjust="spacingAndGlyphs">FOXP1</text>
<text x="501.5" y="179.9" font-size="8.5" text-anchor="middle" textLength="25.8" lengthAdjust="spacingAndGlyphs">FOXP1</text>
<text x="435" y="190.4" font-size="9" text-anchor="middle" fill="#484848">-</text>
<text x="453.9" y="190.4" font-size="9" text-anchor="middle" fill="#484848">+</text>
<text x="473.3" y="190.4" font-size="9" text-anchor="middle" fill="#484848">-</text>
<text x="491.4" y="190.4" font-size="9" text-anchor="middle" fill="#484848">+</text>
<text x="403.2" y="139.3" font-size="10.3" text-anchor="middle" fill="#363636" textLength="54" lengthAdjust="spacingAndGlyphs" transform="rotate(-90 403.2 139.3)">Apoptosis vs ctr</text>
<rect x="54" y="279.38" width="12" height="5.52" fill="#2a4a7f"/>
<path d="M76.6 257.63L76.6 250.79" stroke="#1a1a1a" stroke-width="1.1"/>
<path d="M73.3 250.79L79.9 250.79" stroke="#1a1a1a" stroke-width="1.1"/>
<rect x="70.6" y="257.13" width="12" height="27.77" fill="#c4122f"/>
<path d="M93.2 264.98L93.2 259.07" stroke="#1a1a1a" stroke-width="1.1"/>
<path d="M89.9 259.07L96.5 259.07" stroke="#1a1a1a" stroke-width="1.1"/>
<rect x="87.2" y="264.48" width="12" height="20.42" fill="#5b9bd5"/>
<path d="M109.8 273.64L109.8 271.21" stroke="#1a1a1a" stroke-width="1.1"/>
<path d="M106.5 271.21L113.1 271.21" stroke="#1a1a1a" stroke-width="1.1"/>
<rect x="103.8" y="273.14" width="12" height="11.76" fill="#2a4a7f"/>
<path d="M51.8 237.2L51.8 285.5" stroke="#151515" stroke-width="1.25"/>
<path d="M51.2 284.9L118.8 284.9" stroke="#151515" stroke-width="1.25"/>
<path d="M48.5 284.9L51.8 284.9" stroke="#151515" stroke-width="1.15"/>
<text x="45.3" y="287.8" font-size="8.5" text-anchor="end" textLength="4.5" lengthAdjust="spacingAndGlyphs">0</text>
<path d="M48.5 273.86L51.8 273.86" stroke="#151515" stroke-width="1.15"/>
<text x="45.3" y="276.76" font-size="8.5" text-anchor="end" textLength="4.5" lengthAdjust="spacingAndGlyphs">2</text>
<path d="M48.5 262.82L51.8 262.82" stroke="#151515" stroke-width="1.15"/>
<text x="45.3" y="265.72" font-size="8.5" text-anchor="end" textLength="4.5" lengthAdjust="spacingAndGlyphs">4</text>
<path d="M48.5 251.78L51.8 251.78" stroke="#151515" stroke-width="1.15"/>
<text x="45.3" y="254.68" font-size="8.5" text-anchor="end" textLength="4.5" lengthAdjust="spacingAndGlyphs">6</text>
<path d="M48.5 240.74L51.8 240.74" stroke="#151515" stroke-width="1.15"/>
<text x="45.3" y="243.64" font-size="8.5" text-anchor="end" textLength="4.5" lengthAdjust="spacingAndGlyphs">8</text>
<path d="M60 284.9L60 288.4" stroke="#151515" stroke-width="1.1"/>
<path d="M76.6 284.9L76.6 288.4" stroke="#151515" stroke-width="1.1"/>
<path d="M93.2 284.9L93.2 288.4" stroke="#151515" stroke-width="1.1"/>
<path d="M109.8 284.9L109.8 288.4" stroke="#151515" stroke-width="1.1"/>
<path d="M75.4 247.9L111.2 247.9" stroke="#141414" stroke-width="1.4"/>
<path d="M90.15 243.28L89.71 243.94L88.92 243.99L89.27 244.7L88.92 245.41L89.71 245.46L90.15 246.12L90.59 245.46L91.38 245.41L91.03 244.7L91.38 243.99L90.59 243.94Z" fill="#141414"/>
<path d="M93.45 243.28L93.01 243.94L92.22 243.99L92.57 244.7L92.22 245.41L93.01 245.46L93.45 246.12L93.89 245.46L94.68 245.41L94.33 244.7L94.68 243.99L93.89 243.94Z" fill="#141414"/>
<text x="52" y="298.2" font-size="8.3" text-anchor="end" fill="#444" textLength="24.5" lengthAdjust="spacingAndGlyphs" font-weight="bold" font-style="italic">S1PR2</text>
<text x="60" y="298.3" font-size="8.5" text-anchor="middle" textLength="9.6" lengthAdjust="spacingAndGlyphs">ctr</text>
<text x="76.6" y="298.3" font-size="8.5" text-anchor="middle" textLength="12.2" lengthAdjust="spacingAndGlyphs">+/+</text>
<text x="93.2" y="298.3" font-size="8.5" text-anchor="middle" textLength="10.8" lengthAdjust="spacingAndGlyphs">+/-</text>
<text x="109.8" y="298.3" font-size="8.5" text-anchor="middle" textLength="9.2" lengthAdjust="spacingAndGlyphs">-/-</text>
<text x="51.8" y="309.3" font-size="8.5" text-anchor="end" textLength="19.6" lengthAdjust="spacingAndGlyphs">TGFβ</text>
<text x="60" y="309.9" font-size="9" text-anchor="middle" fill="#484848">-</text>
<text x="76.6" y="309.9" font-size="9" text-anchor="middle" fill="#484848">+</text>
<text x="93.2" y="309.9" font-size="9" text-anchor="middle" fill="#484848">+</text>
<text x="109.8" y="309.9" font-size="9" text-anchor="middle" fill="#484848">+</text>
<text x="36.1" y="261" font-size="10.3" text-anchor="middle" fill="#363636" textLength="53.9" lengthAdjust="spacingAndGlyphs" transform="rotate(-90 36.1 261)">Apoptosis vs ctr</text>
<text x="182" y="242.3" font-size="8.6" text-anchor="middle" textLength="44" lengthAdjust="spacingAndGlyphs">SC injection</text>
<text x="164.4" y="252.4" font-size="8.6" textLength="30" lengthAdjust="spacingAndGlyphs">of 10x10</text>
<text x="194.5" y="249.4" font-size="5.2">6</text>
<text x="182" y="263" font-size="8.6" text-anchor="middle" textLength="36.5" lengthAdjust="spacingAndGlyphs">SU-DHL-6</text>
<path d="M186.5 265.6L186.5 273.5" stroke="#222" stroke-width="0.9"/>
<path d="M184.6 271.8L188.4 271.8L186.5 275Z" fill="#222"/>
<path d="M186 277.4L314.5 277.4" stroke="#222" stroke-width="1.0"/>
<path d="M313.2 275.3L317.6 277.4L313.2 279.5Z" fill="#222"/>
<text x="222.9" y="252.2" font-size="8.6" text-anchor="middle" textLength="23.5" lengthAdjust="spacingAndGlyphs">0.2 µg</text>
<text x="222.9" y="263" font-size="8.6" text-anchor="middle" textLength="19.8" lengthAdjust="spacingAndGlyphs">TGFβ</text>
<path d="M222.6 265.6L222.6 273.5" stroke="#222" stroke-width="0.9"/>
<path d="M220.7 271.8L224.5 271.8L222.6 275Z" fill="#222"/>
<text x="222.8" y="287.3" font-size="8.6" text-anchor="middle">9 d</text>
<text x="254.6" y="252.2" font-size="8.6" text-anchor="middle" textLength="23.5" lengthAdjust="spacingAndGlyphs">0.2 µg</text>
<text x="254.6" y="263" font-size="8.6" text-anchor="middle" textLength="19.8" lengthAdjust="spacingAndGlyphs">TGFβ</text>
<path d="M254.3 265.6L254.3 273.5" stroke="#222" stroke-width="0.9"/>
<path d="M252.4 271.8L256.2 271.8L254.3 275Z" fill="#222"/>
<text x="254.5" y="287.3" font-size="8.6" text-anchor="middle">12 d</text>
<text x="285.2" y="252.2" font-size="8.6" text-anchor="middle" textLength="23.5" lengthAdjust="spacingAndGlyphs">0.2 µg</text>
<text x="285.2" y="263" font-size="8.6" text-anchor="middle" textLength="19.8" lengthAdjust="spacingAndGlyphs">TGFβ</text>
<path d="M284.9 265.6L284.9 273.5" stroke="#222" stroke-width="0.9"/>
<path d="M283 271.8L286.8 271.8L284.9 275Z" fill="#222"/>
<text x="285.1" y="287.3" font-size="8.6" text-anchor="middle">15 d</text>
<text x="321.8" y="252.6" font-size="8.6" text-anchor="middle" textLength="30" lengthAdjust="spacingAndGlyphs">Excision</text>
<text x="322.2" y="263" font-size="8.6" text-anchor="middle" textLength="35.5" lengthAdjust="spacingAndGlyphs">of tumors</text>
<path d="M315.4 265.6L315.4 273.5" stroke="#222" stroke-width="0.9"/>
<path d="M313.5 271.8L317.3 271.8L315.4 275Z" fill="#222"/>
<text x="315" y="287.3" font-size="8.6" text-anchor="middle">18 d</text>
<rect x="66.2" y="369.4" width="25.3" height="33.3" fill="#2b4a8b"/>
<path d="M116.9 381.8L116.9 377.8" stroke="#1a1a1a" stroke-width="1.1"/>
<path d="M110.9 377.8L122.9 377.8" stroke="#1a1a1a" stroke-width="1.1"/>
<rect x="104.3" y="381.3" width="25.3" height="21.4" fill="#c3c3c8"/>
<path d="M59.7 350.8L59.7 403.3" stroke="#151515" stroke-width="1.25"/>
<path d="M59.1 402.7L130.4 402.7" stroke="#151515" stroke-width="1.25"/>
<path d="M56.4 402.7L59.7 402.7" stroke="#151515" stroke-width="1.15"/>
<text x="53.1" y="405.6" font-size="8.5" text-anchor="end" textLength="4.4" lengthAdjust="spacingAndGlyphs">0</text>
<path d="M56.4 386.1L59.7 386.1" stroke="#151515" stroke-width="1.15"/>
<text x="53.1" y="389" font-size="8.5" text-anchor="end" textLength="8.8" lengthAdjust="spacingAndGlyphs">50</text>
<path d="M56.4 369.5L59.7 369.5" stroke="#151515" stroke-width="1.15"/>
<text x="53.1" y="372.4" font-size="8.5" text-anchor="end" textLength="12.9" lengthAdjust="spacingAndGlyphs">100</text>
<path d="M56.4 352.9L59.7 352.9" stroke="#151515" stroke-width="1.15"/>
<text x="53.1" y="355.8" font-size="8.5" text-anchor="end" textLength="12.9" lengthAdjust="spacingAndGlyphs">150</text>
<path d="M78.9 402.7L78.9 406.2" stroke="#151515" stroke-width="1.1"/>
<path d="M116.7 402.7L116.7 406.2" stroke="#151515" stroke-width="1.1"/>
<path d="M78.8 363.8L117.4 363.8" stroke="#141414" stroke-width="1.4"/>
<path d="M96.75 358.98L96.31 359.64L95.52 359.69L95.87 360.4L95.52 361.11L96.31 361.16L96.75 361.82L97.19 361.16L97.98 361.11L97.63 360.4L97.98 359.69L97.19 359.64Z" fill="#141414"/>
<path d="M100.05 358.98L99.61 359.64L98.82 359.69L99.17 360.4L98.82 361.11L99.61 361.16L100.05 361.82L100.49 361.16L101.28 361.11L100.93 360.4L101.28 359.69L100.49 359.64Z" fill="#141414"/>
<text x="116.2" y="373.4" font-size="8" text-anchor="middle" textLength="17.7" lengthAdjust="spacingAndGlyphs">n=16</text>
<text x="79" y="414.8" font-size="8.2" text-anchor="middle" textLength="28" lengthAdjust="spacingAndGlyphs">Control</text>
<text x="116.8" y="414.8" font-size="8.2" text-anchor="middle" textLength="19.5" lengthAdjust="spacingAndGlyphs">TGFβ</text>
<text x="22.7" y="376.25" font-size="10.3" text-anchor="middle" fill="#363636" textLength="50.8" lengthAdjust="spacingAndGlyphs" transform="rotate(-90 22.7 376.25)">Tumor volume</text>
<text x="34.8" y="376.25" font-size="10.3" text-anchor="middle" fill="#363636" textLength="45.6" lengthAdjust="spacingAndGlyphs" transform="rotate(-90 34.8 376.25)">vs ctr /mouse</text>
<path d="M195 350.2L195 403.1" stroke="#151515" stroke-width="1.25"/>
<path d="M194.4 402.5L270.3 402.5" stroke="#151515" stroke-width="1.25"/>
<path d="M191.7 402.5L195 402.5" stroke="#151515" stroke-width="1.15"/>
<text x="188.4" y="405.4" font-size="8.5" text-anchor="end" textLength="15" lengthAdjust="spacingAndGlyphs">0.00</text>
<path d="M191.7 385.95L195 385.95" stroke="#151515" stroke-width="1.15"/>
<text x="188.4" y="388.85" font-size="8.5" text-anchor="end" textLength="15" lengthAdjust="spacingAndGlyphs">0.02</text>
<path d="M191.7 369.4L195 369.4" stroke="#151515" stroke-width="1.15"/>
<text x="188.4" y="372.3" font-size="8.5" text-anchor="end" textLength="15" lengthAdjust="spacingAndGlyphs">0.04</text>
<path d="M191.7 352.85L195 352.85" stroke="#151515" stroke-width="1.15"/>
<text x="188.4" y="355.75" font-size="8.5" text-anchor="end" textLength="15" lengthAdjust="spacingAndGlyphs">0.06</text>
<path d="M213.6 402.5L213.6 406" stroke="#151515" stroke-width="1.1"/>
<path d="M251.4 402.5L251.4 406" stroke="#151515" stroke-width="1.1"/>
<circle cx="212.8" cy="389.9" r="1.2" fill="#22377c"/>
<circle cx="215.7" cy="390.3" r="1.2" fill="#22377c"/>
<circle cx="204.6" cy="400.3" r="1.2" fill="#22377c"/>
<circle cx="207.4" cy="401.0" r="1.2" fill="#22377c"/>
<circle cx="210.2" cy="401.4" r="1.2" fill="#22377c"/>
<circle cx="213.0" cy="401.2" r="1.2" fill="#22377c"/>
<circle cx="215.8" cy="401.0" r="1.2" fill="#22377c"/>
<circle cx="218.6" cy="400.4" r="1.2" fill="#22377c"/>
<circle cx="221.4" cy="399.4" r="1.2" fill="#22377c"/>
<rect x="250.05" y="354.65" width="2.7" height="2.7" fill="#c6c6cb"/>
<rect x="248.45" y="360.05" width="2.7" height="2.7" fill="#c6c6cb"/>
<rect x="251.65" y="360.05" width="2.7" height="2.7" fill="#c6c6cb"/>
<rect x="250.05" y="377.25" width="2.7" height="2.7" fill="#c6c6cb"/>
<rect x="250.05" y="384.85" width="2.7" height="2.7" fill="#c6c6cb"/>
<rect x="250.05" y="388.95" width="2.7" height="2.7" fill="#c6c6cb"/>
<rect x="250.05" y="392.65" width="2.7" height="2.7" fill="#c6c6cb"/>
<rect x="250.05" y="397.15" width="2.7" height="2.7" fill="#c6c6cb"/>
<path d="M201.4 399.6L226.4 399.6" stroke="#161616" stroke-width="1.3"/>
<path d="M238.7 380.8L264 380.8" stroke="#161616" stroke-width="1.3"/>
<path d="M213.4 345.8L251.3 345.8" stroke="#141414" stroke-width="1.4"/>
<path d="M230.15 341.18L229.71 341.84L228.92 341.89L229.27 342.6L228.92 343.31L229.71 343.36L230.15 344.02L230.59 343.36L231.38 343.31L231.03 342.6L231.38 341.89L230.59 341.84Z" fill="#141414"/>
<path d="M233.45 341.18L233.01 341.84L232.22 341.89L232.57 342.6L232.22 343.31L233.01 343.36L233.45 344.02L233.89 343.36L234.68 343.31L234.33 342.6L234.68 341.89L233.89 341.84Z" fill="#141414"/>
<text x="214.3" y="414.8" font-size="8.2" text-anchor="middle" textLength="28" lengthAdjust="spacingAndGlyphs">Control</text>
<text x="251.8" y="414.8" font-size="8.2" text-anchor="middle" textLength="19.5" lengthAdjust="spacingAndGlyphs">TGFβ</text>
<text x="168.2" y="376" font-size="10.3" fill="#363636" text-anchor="middle" textLength="61.1" lengthAdjust="spacingAndGlyphs" transform="rotate(-90 168.2 376)"><tspan font-style="italic">S1PR2</tspan> expression</text>
<rect x="0" y="0" width="520" height="1.05" fill="#0a0a0a"/>
<rect x="0" y="0" width="1.05" height="426" fill="#0a0a0a"/>
<rect x="518.55" y="0" width="1.45" height="426" fill="#0a0a0a"/>
<rect x="0" y="424.55" width="520" height="1.45" fill="#0a0a0a"/>
</svg>
</body></html>
